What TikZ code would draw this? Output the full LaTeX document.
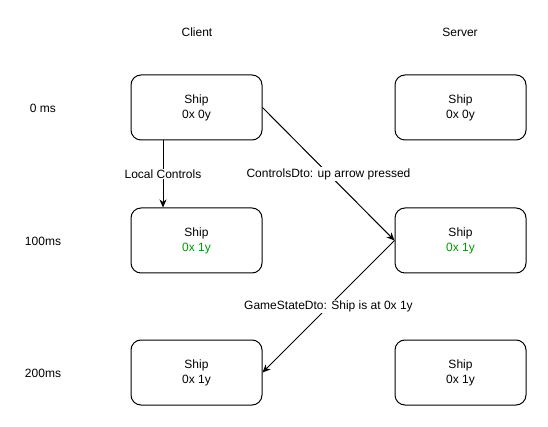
\documentclass[tikz,border=0pt]{standalone}
\usepackage{fontspec}
\setmainfont{Liberation Sans}
\usetikzlibrary{arrows.meta}
\definecolor{okgreen}{RGB}{0,153,0}
\begin{document}
\begin{tikzpicture}[x=1pt,y=-1pt,
  every node/.style={font=\fontsize{12}{15}\selectfont},
  shipbox/.style={draw, line width=1pt, rounded corners=10pt, minimum width=131pt, minimum height=65pt, align=center, inner sep=0pt},
  msg/.style={draw, line width=1pt, -{Stealth[length=8pt,width=7pt,inset=2.5pt]}},
  lbl/.style={fill=white, inner sep=1pt}]
  \useasboundingbox (0,0) rectangle (548,427);

  % column headers
  \node (client) at (197,32) {Client};
  \node (server) at (460,32) {Server};

  % time labels
  \node (t0) at (43,108) {0 ms};
  \node (t1) at (43,241) {100ms};
  \node (t2) at (43,373) {200ms};

  % client states
  \node[shipbox] (c0) at (196.5,107.5) {Ship\\0x 0y};
  \node[shipbox] (c1) at (196.5,240.5) {Ship\\\textcolor{okgreen}{0x 1y}};
  \node[shipbox] (c2) at (196.5,372.5) {Ship\\0x 1y};

  % server states
  \node[shipbox] (s0) at (460.5,107.5) {Ship\\0x 0y};
  \node[shipbox] (s1) at (460.5,240.5) {Ship\\\textcolor{okgreen}{0x 1y}};
  \node[shipbox] (s2) at (460.5,372.5) {Ship\\0x 1y};

  % messages
  \draw[msg] (c0.south -| 163,0) -- node[lbl] {Local Controls} (c1.north -| 163,0);
  \draw[msg] (c0.east) -- node[lbl] {ControlsDto: up arrow pressed} (s1.west);
  \draw[msg] (s1.west) -- node[lbl] {GameStateDto: Ship is at 0x 1y} (c2.east);
\end{tikzpicture}
\end{document}
